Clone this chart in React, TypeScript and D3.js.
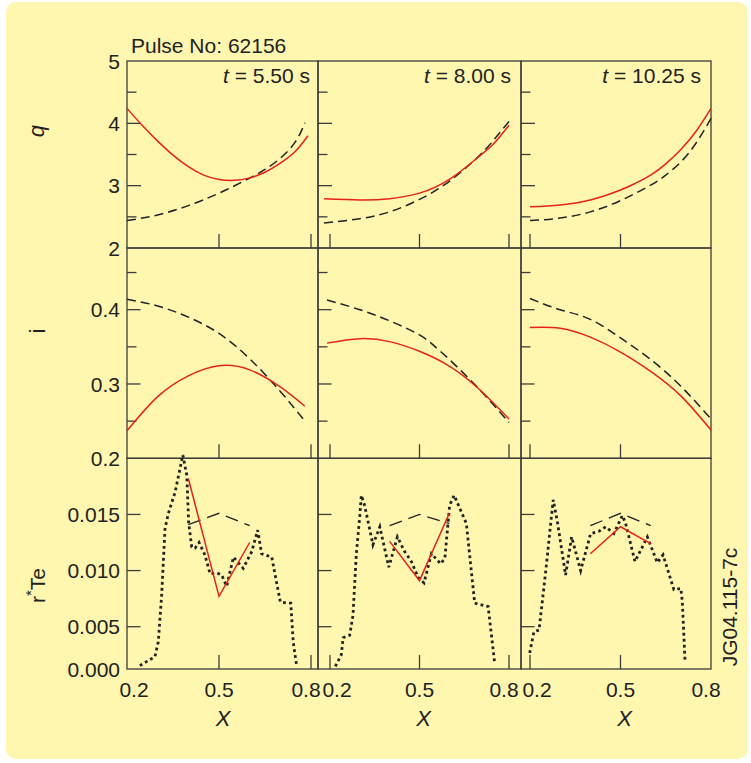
import React from 'react';
import * as d3 from 'd3';

// ---------- data ----------
const pulseTitle = 'Pulse No: 62156';
const times = ['5.50', '8.00', '10.25'];
const figId = 'JG04.115-7c';

const qTickLabels = [2, 3, 4, 5];
const qMajor = [3, 4];
const qMinor = [2.5, 3.5, 4.5];
const iTickLabels = [0.2, 0.3, 0.4];
const iMajor = [0.3, 0.4];
const iMinor = [0.25, 0.35, 0.45];
const rTickLabels = [0, 0.005, 0.01, 0.015];
const rMajor = [0.005, 0.01, 0.015];
const xTickLabels = [0.2, 0.5, 0.8];

// q profiles (red = measured, dashed = reference)
const qRedX = [
  [0.2, 0.25, 0.3, 0.35, 0.4, 0.45, 0.5, 0.55, 0.6, 0.65, 0.7, 0.75, 0.79],
  [0.18, 0.3, 0.4, 0.5, 0.6, 0.7, 0.75, 0.8],
  [0.2, 0.3, 0.4, 0.5, 0.55, 0.6, 0.65, 0.7, 0.75, 0.8],
];
const qRedY = [
  [4.24, 3.965, 3.715, 3.49, 3.305, 3.17, 3.1, 3.085, 3.125, 3.215, 3.36, 3.555, 3.8],
  [2.79, 2.77, 2.79, 2.88, 3.1, 3.47, 3.68, 3.97],
  [2.66, 2.69, 2.77, 2.93, 3.04, 3.17, 3.35, 3.58, 3.87, 4.24],
];
const qDashX = [
  [0.2, 0.3, 0.4, 0.5, 0.6, 0.65, 0.7, 0.75, 0.78],
  [0.18, 0.3, 0.4, 0.5, 0.6, 0.7, 0.75, 0.8],
  [0.2, 0.3, 0.4, 0.5, 0.6, 0.65, 0.7, 0.75, 0.8],
];
const qDashY = [
  [2.44, 2.53, 2.68, 2.88, 3.12, 3.26, 3.44, 3.71, 4.01],
  [2.4, 2.47, 2.58, 2.78, 3.07, 3.48, 3.74, 4.03],
  [2.44, 2.48, 2.58, 2.76, 3.01, 3.17, 3.38, 3.68, 4.08],
];

// i profiles
const iRedX = [
  [0.2, 0.3, 0.4, 0.5, 0.6, 0.7, 0.78],
  [0.19, 0.3, 0.4, 0.5, 0.6, 0.7, 0.8],
  [0.2, 0.3, 0.4, 0.5, 0.6, 0.7, 0.8],
];
const iRedY = [
  [0.237, 0.283, 0.311, 0.3245, 0.319, 0.296, 0.27],
  [0.355, 0.361, 0.357, 0.344, 0.324, 0.293, 0.253],
  [0.376, 0.375, 0.363, 0.343, 0.317, 0.284, 0.238],
];
const iDashX = [
  [0.2, 0.3, 0.4, 0.5, 0.6, 0.7, 0.78],
  [0.19, 0.3, 0.4, 0.5, 0.55, 0.6, 0.7, 0.8],
  [0.2, 0.3, 0.4, 0.5, 0.6, 0.7, 0.8],
];
const iDashY = [
  [0.414, 0.405, 0.39, 0.368, 0.334, 0.29, 0.25],
  [0.413, 0.4, 0.385, 0.366, 0.351, 0.333, 0.293, 0.248],
  [0.415, 0.4, 0.387, 0.362, 0.333, 0.297, 0.253],
];

// r*Te profiles (dotted = local, red and dashed = three-point fits)
const rDotX = [
  [0.242, 0.291, 0.302, 0.313, 0.324, 0.335, 0.357, 0.373, 0.382, 0.395, 0.401, 0.411, 0.422, 0.435, 0.454, 0.471, 0.492, 0.509, 0.525, 0.547, 0.579, 0.607, 0.626, 0.639, 0.672, 0.7, 0.721, 0.734, 0.742, 0.753],
  [0.218, 0.238, 0.244, 0.266, 0.277, 0.288, 0.3, 0.305, 0.316, 0.344, 0.367, 0.397, 0.426, 0.45, 0.473, 0.495, 0.515, 0.54, 0.571, 0.585, 0.601, 0.616, 0.657, 0.685, 0.73, 0.752],
  [0.199, 0.213, 0.23, 0.252, 0.269, 0.277, 0.291, 0.318, 0.338, 0.368, 0.401, 0.429, 0.451, 0.478, 0.506, 0.517, 0.548, 0.589, 0.622, 0.641, 0.677, 0.7, 0.705, 0.714],
];
const rDotY = [
  [0.0004, 0.00145, 0.0032, 0.0078, 0.01375, 0.0151, 0.017, 0.0191, 0.0203, 0.0185, 0.0143, 0.0121, 0.012, 0.0125, 0.0114, 0.0097, 0.0098, 0.0096, 0.0086, 0.0112, 0.0102, 0.0117, 0.0136, 0.0115, 0.0112, 0.0072, 0.0071, 0.0071, 0.0032, 0.0004],
  [0.0003, 0.0017, 0.0037, 0.004, 0.006, 0.0114, 0.0149, 0.0167, 0.0158, 0.0123, 0.0139, 0.0103, 0.013, 0.0117, 0.0108, 0.0094, 0.0089, 0.0115, 0.0106, 0.0111, 0.0158, 0.0167, 0.0142, 0.0071, 0.0068, 0.0007],
  [0.0019, 0.0044, 0.0046, 0.0099, 0.0143, 0.0163, 0.0143, 0.0096, 0.013, 0.01, 0.0133, 0.0135, 0.0139, 0.0133, 0.0149, 0.0142, 0.0108, 0.013, 0.0107, 0.0114, 0.0083, 0.0084, 0.0072, 0.0009],
];
const rFitX = [0.4, 0.5, 0.6];
const rRedY = [
  [0.0182, 0.0077, 0.0125],
  [0.0126, 0.0091, 0.0151],
  [0.0115, 0.0139, 0.0124],
];
const rDashY = [
  [0.0141, 0.0151, 0.014],
  [0.014, 0.015, 0.0142],
  [0.014, 0.0151, 0.014],
];

// ---------- layout ----------
const W = 751;
const H = 763;
const FONT = "'Liberation Sans', Arial, Helvetica, sans-serif";
const INK = '#222';
const FRAME = '#3d3d3d';
const RED = '#e5231b';
const BG = '#fff6b0';

const cols = [
  { left: 127, right: 318, x02: 127, x08: 311 },
  { left: 318, right: 521, x02: 330, x08: 509 },
  { left: 521, right: 711, x02: 530, x08: 711 },
];
const rowEdges = [61, 248, 458.3, 669];

const yQ = d3.scaleLinear().domain([2, 5]).range([rowEdges[1], rowEdges[0]]);
const yI = d3.scaleLinear().domain([0.2, 0.483]).range([rowEdges[2], rowEdges[1]]);
const yR = d3.scaleLinear().domain([0, 0.005, 0.02]).range([rowEdges[3], 626.7, rowEdges[2]]);

const xScales = cols.map((c) => d3.scaleLinear().domain([0.2, 0.8]).range([c.x02, c.x08]));

function pathOf(xsArr: number[], ysArr: number[], xs: d3.ScaleLinear<number, number>, ys: any, curve: any) {
  const pts: [number, number][] = xsArr.map((x, k) => [x, ysArr[k]]);
  return d3
    .line<[number, number]>()
    .x((d) => xs(d[0]))
    .y((d) => ys(d[1]))
    .curve(curve)(pts) as string;
}

export default function App() {
  const rows = [
    { ys: yQ, major: qMajor, minor: qMinor, majLen: 14, minLen: 9.5 },
    { ys: yI, major: iMajor, minor: iMinor, majLen: 13.5, minLen: 9.5 },
    { ys: yR, major: rMajor, minor: [] as number[], majLen: 13.5, minLen: 9.5 },
  ];

  return (
    <svg
      width={W}
      height={H}
      style={{ position: 'absolute', left: 0, top: 0, background: '#fff' }}
      fontFamily={FONT}
    >
      <rect x={6} y={2} width={742} height={757} rx={10} ry={10} fill={BG} />

      {/* title */}
      <text x={131} y={53} fontSize={21} fill={INK}>
        {pulseTitle}
      </text>

      {/* panels */}
      {cols.map((c, ci) => {
        const xs = xScales[ci];
        return (
          <g key={'col' + ci}>
            {rows.map((r, ri) => {
              const top = rowEdges[ri];
              const bot = rowEdges[ri + 1];
              return (
                <g key={'p' + ri}>
                  {r.major.map((v) => (
                    <line key={'M' + v} x1={c.left} x2={c.left + r.majLen} y1={r.ys(v)} y2={r.ys(v)} stroke={FRAME} strokeWidth={1.3} />
                  ))}
                  {r.minor.map((v) => (
                    <line key={'m' + v} x1={c.left} x2={c.left + r.minLen} y1={r.ys(v)} y2={r.ys(v)} stroke={FRAME} strokeWidth={1.3} />
                  ))}
                  {xTickLabels
                    .filter((v) => Math.abs(xs(v) - c.left) > 1 && Math.abs(xs(v) - c.right) > 1)
                    .map((v) => (
                      <line key={'xt' + v} x1={xs(v)} x2={xs(v)} y1={bot} y2={bot - 14} stroke={FRAME} strokeWidth={1.3} />
                    ))}
                  <rect x={c.left} y={top} width={c.right - c.left} height={bot - top} fill="none" stroke={FRAME} strokeWidth={1.3} />
                </g>
              );
            })}

            {/* q */}
            <path d={pathOf(qDashX[ci], qDashY[ci], xs, yQ, d3.curveNatural)} fill="none" stroke={INK} strokeWidth={1.5} strokeDasharray="9 5" />
            <path d={pathOf(qRedX[ci], qRedY[ci], xs, yQ, d3.curveNatural)} fill="none" stroke={RED} strokeWidth={1.5} />
            {/* i */}
            <path d={pathOf(iDashX[ci], iDashY[ci], xs, yI, d3.curveNatural)} fill="none" stroke={INK} strokeWidth={1.5} strokeDasharray="9 5" />
            <path d={pathOf(iRedX[ci], iRedY[ci], xs, yI, d3.curveNatural)} fill="none" stroke={RED} strokeWidth={1.5} />
            {/* r*Te */}
            <path d={pathOf(rDotX[ci], rDotY[ci], xs, yR, d3.curveLinear)} fill="none" stroke={INK} strokeWidth={2.8} strokeDasharray="2.8 3.2" />
            <path d={pathOf(rFitX, rDashY[ci], xs, yR, d3.curveLinear)} fill="none" stroke={INK} strokeWidth={1.3} strokeDasharray="13 7" />
            <path d={pathOf(rFitX, rRedY[ci], xs, yR, d3.curveLinear)} fill="none" stroke={RED} strokeWidth={1.5} />

            {/* time label */}
            <text x={[310, 511, 701][ci]} y={83} fontSize={21} fill={INK} textAnchor="end">
              <tspan fontStyle="italic">t</tspan>
              {' = ' + times[ci] + ' s'}
            </text>

            {/* x tick labels */}
            {xTickLabels.map((v, k) => {
              const off = k === 0 ? 7 : k === 2 ? -5 : 0;
              return (
                <text key={'xl' + v} x={xs(v) + off} y={697} fontSize={21} fill={INK} textAnchor="middle">
                  {d3.format('.1f')(v)}
                </text>
              );
            })}
            <text x={xs(0.5) + 4} y={726} fontSize={22} fontStyle="italic" fill={INK} textAnchor="middle">
              X
            </text>
          </g>
        );
      })}

      {/* y tick labels */}
      {qTickLabels.map((v) => (
        <text key={'ql' + v} x={120} y={yQ(v)} dy="0.36em" fontSize={21} fill={INK} textAnchor="end">
          {v}
        </text>
      ))}
      {iTickLabels.map((v) => (
        <text key={'il' + v} x={120} y={yI(v)} dy="0.36em" fontSize={21} fill={INK} textAnchor="end">
          {d3.format('.1f')(v)}
        </text>
      ))}
      {rTickLabels.map((v) => (
        <text key={'rl' + v} x={120} y={yR(v)} dy="0.36em" fontSize={21} fill={INK} textAnchor="end">
          {d3.format('.3f')(v)}
        </text>
      ))}

      {/* axis titles */}
      <text transform="translate(44,131) rotate(-90)" fontSize={22} fontStyle="italic" fill={INK} textAnchor="middle">
        q
      </text>
      <text transform="translate(45,331) rotate(-90)" fontSize={22} fill={INK} textAnchor="middle">
        i
      </text>
      <text transform="translate(45,603) rotate(-90)" fontSize={21} fill={INK}>
        r
        <tspan fontSize={15} dy={-9}>*</tspan>
        <tspan fontSize={21} dy={9}>Te</tspan>
      </text>

      <text transform="translate(737,607) rotate(-90)" fontSize={21} fill={INK} textAnchor="middle">
        {figId}
      </text>
    </svg>
  );
}
